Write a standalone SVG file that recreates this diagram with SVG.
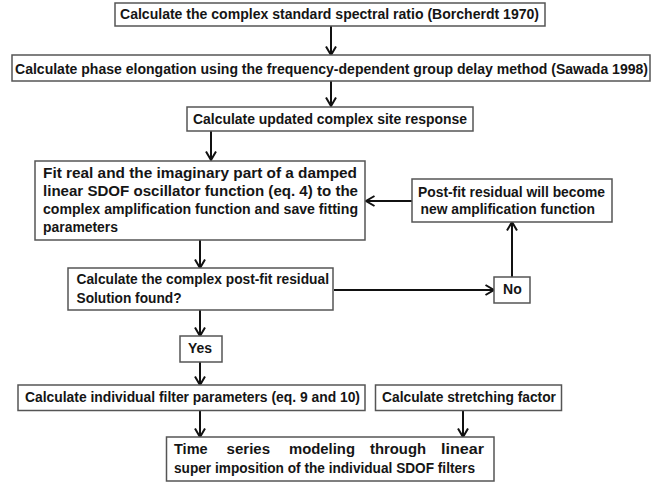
<svg xmlns="http://www.w3.org/2000/svg" width="662" height="485" viewBox="0 0 662 485">
<defs>
<style>
.box{fill:#fff;stroke:#555;stroke-width:1.5}
.t{font-family:"Liberation Sans",Arial,sans-serif;font-weight:bold;font-size:14px;fill:#151515}
.c{stroke:#111;stroke-width:2;fill:none;marker-end:url(#ah)}
</style>
<marker id="ah" markerUnits="userSpaceOnUse" markerWidth="12" markerHeight="12" viewBox="0 0 12 12" refX="10" refY="6" orient="auto">
<path d="M1.5,1 L10,6 L1.5,11" fill="none" stroke="#111" stroke-width="2"/>
</marker>
</defs>
<rect width="662" height="485" fill="#fff"/>
<g id="connectors">
<path class="c" d="M331,26 V55"/>
<path class="c" d="M331,81 V106"/>
<path class="c" d="M211,131 V160"/>
<path class="c" d="M200,240 V268"/>
<path class="c" d="M200,310 V336"/>
<path class="c" d="M200,362 V385"/>
<path class="c" d="M200,411 V437"/>
<path class="c" d="M463,411 V437"/>
<path class="c" d="M334,290 H494"/>
<path class="c" d="M512,277 V222"/>
<path class="c" d="M412,201 H366"/>
</g>
<g id="n1"><rect class="box" x="115" y="3" width="430" height="23"/>
<text class="t" x="120" y="19.3" textLength="419" lengthAdjust="spacingAndGlyphs">Calculate the complex standard spectral ratio (Borcherdt 1970)</text></g>
<g id="n2"><rect class="box" x="12" y="55" width="638" height="26"/>
<text class="t" x="15" y="74" textLength="633" lengthAdjust="spacingAndGlyphs">Calculate phase elongation using the frequency-dependent group delay method (Sawada 1998)</text></g>
<g id="n3"><rect class="box" x="187" y="107" width="286" height="24"/>
<text class="t" x="193" y="124" textLength="274" lengthAdjust="spacingAndGlyphs">Calculate updated complex site response</text></g>
<g id="n4"><rect class="box" x="35" y="161" width="330" height="79"/>
<text class="t" x="43" y="178.3" textLength="314" lengthAdjust="spacingAndGlyphs">Fit real and the imaginary part of a damped</text>
<text class="t" x="43" y="196.3" textLength="315" lengthAdjust="spacingAndGlyphs">linear SDOF oscillator function (eq. 4) to the</text>
<text class="t" x="43" y="214.3" textLength="315" lengthAdjust="spacingAndGlyphs">complex amplification function and save fitting</text>
<text class="t" x="43" y="232.3" textLength="75" lengthAdjust="spacingAndGlyphs">parameters</text></g>
<g id="n5"><rect class="box" x="412" y="179" width="200" height="43"/>
<text class="t" x="418" y="196.7" textLength="187" lengthAdjust="spacingAndGlyphs">Post-fit residual will become</text>
<text class="t" x="420.5" y="214.3" textLength="174.5" lengthAdjust="spacingAndGlyphs">new amplification function</text></g>
<g id="n6"><rect class="box" x="68" y="268" width="265" height="42"/>
<text class="t" x="76.5" y="284" textLength="252.5" lengthAdjust="spacingAndGlyphs">Calculate the complex post-fit residual</text>
<text class="t" x="76.5" y="302.7" textLength="105" lengthAdjust="spacingAndGlyphs">Solution found?</text></g>
<g id="n7"><rect class="box" x="494" y="277" width="36" height="26"/>
<text class="t" x="503" y="294.3" textLength="18.7" lengthAdjust="spacingAndGlyphs">No</text></g>
<g id="n8"><rect class="box" x="180" y="336" width="42" height="26"/>
<text class="t" x="188" y="353.3" textLength="24" lengthAdjust="spacingAndGlyphs">Yes</text></g>
<g id="n9"><rect class="box" x="18" y="385" width="347" height="25.5"/>
<text class="t" x="25" y="401.7" textLength="335" lengthAdjust="spacingAndGlyphs">Calculate individual filter parameters (eq. 9 and 10)</text></g>
<g id="n10"><rect class="box" x="375.5" y="385" width="186" height="25.5"/>
<text class="t" x="382" y="401.7" textLength="174" lengthAdjust="spacingAndGlyphs">Calculate stretching factor</text></g>
<g id="n11"><rect class="box" x="166.5" y="437" width="327.5" height="44"/>
<text class="t" x="174" y="454" textLength="33.6" lengthAdjust="spacingAndGlyphs">Time</text>
<text class="t" x="226.6" y="454" textLength="43.4" lengthAdjust="spacingAndGlyphs">series</text>
<text class="t" x="289" y="454" textLength="66" lengthAdjust="spacingAndGlyphs">modeling</text>
<text class="t" x="370" y="454" textLength="56" lengthAdjust="spacingAndGlyphs">through</text>
<text class="t" x="441" y="454" textLength="43" lengthAdjust="spacingAndGlyphs">linear</text>
<text class="t" x="174" y="472.7" textLength="301" lengthAdjust="spacingAndGlyphs">super imposition of the individual SDOF filters</text></g>
</svg>
